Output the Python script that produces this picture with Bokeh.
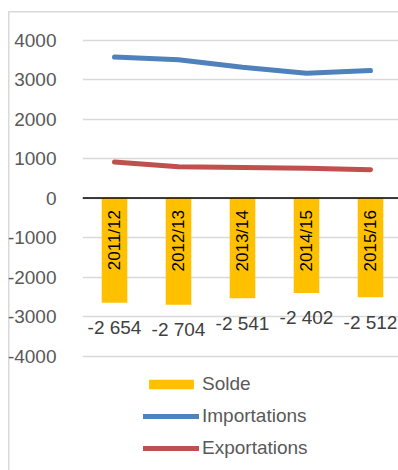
import math
from bokeh.plotting import figure
from bokeh.models import (Range1d, FixedTicker, Span, Legend, LegendItem,
                          ColumnDataSource)
from bokeh.embed import file_html
from bokeh.resources import INLINE
from bokeh.core.properties import value

# ---- data ----
categories = ["2011/12", "2012/13", "2013/14", "2014/15", "2015/16"]
solde = [-2654, -2704, -2541, -2402, -2512]
importations = [3570, 3500, 3310, 3160, 3225]
exportations = [910, 790, 770, 755, 715]
y_ticks = [-4000, -3000, -2000, -1000, 0, 1000, 2000, 3000, 4000]

# ---- layout constants ----
W, H = 398, 470
LEFT, TOP = 82, 12
PX_PER_CAT = 64.0
PX_PER_UNIT = 39.5 / 1000.0
ZERO_Y = 197.5
FONT = "Liberation Sans"
BORDER = "#D9D9D9"

x = list(range(len(categories)))
solde_labels = [f"{v:,}".replace(",", " ") for v in solde]

src = ColumnDataSource(dict(x=x, cat=categories, solde=solde, imp=importations,
                            exp=exportations, lab=solde_labels,
                            zero=[0] * len(x)))

x_range = Range1d(-0.5, -0.5 + (W - LEFT) / PX_PER_CAT)
y_range = Range1d(-(H - ZERO_Y) / PX_PER_UNIT, (ZERO_Y - TOP) / PX_PER_UNIT)

p = figure(width=W, height=H, x_range=x_range, y_range=y_range,
           output_backend="svg", toolbar_location=None, tools="",
           x_axis_location=None,
           min_border_left=LEFT, min_border_right=0,
           min_border_top=TOP, min_border_bottom=0)
# chart-area border (left and top edges visible) drawn as the page background
p.styles = {
    "background": (f"linear-gradient({BORDER}, {BORDER}) 8px 11px / 1.5px 100% no-repeat, "
                   f"linear-gradient({BORDER}, {BORDER}) 8px 11px / 100% 1.5px no-repeat, "
                   "white")
}
p.outline_line_color = None
p.background_fill_color = None
p.border_fill_color = None

p.xgrid.grid_line_color = None
p.ygrid.ticker = FixedTicker(ticks=y_ticks)
p.ygrid.grid_line_color = "#D9D9D9"
p.ygrid.grid_line_width = 1.5

ax = p.yaxis[0]
ax.ticker = FixedTicker(ticks=y_ticks)
ax.major_label_overrides = {t: str(t) for t in y_ticks}
ax.axis_line_color = None
ax.major_tick_line_color = None
ax.minor_tick_line_color = None
ax.major_label_standoff = 20
ax.major_label_text_font = FONT
ax.major_label_text_font_size = "19px"
ax.major_label_text_color = "#595959"

bars = p.vbar(x="x", top="solde", bottom=0, width=0.4, source=src,
              fill_color="#FFC000", line_color=None)
l_imp = p.line("x", "imp", source=src, line_width=5, line_color="#4F81BD",
               line_cap="round", line_join="round")
l_exp = p.line("x", "exp", source=src, line_width=5, line_color="#C0504D",
               line_cap="round", line_join="round")

p.add_layout(Span(location=0, dimension="width", line_color="#000000",
                  line_width=1.5))

p.text(x="x", y="zero", text="cat", source=src, angle=math.pi / 2,
       text_align="right", text_baseline="middle", y_offset=12,
       text_font=value(FONT), text_font_size="17px", text_color="#000000")

p.text(x="x", y="solde", text="lab", source=src, text_align="center",
       text_baseline="middle", y_offset=25,
       text_font=value(FONT), text_font_size="19px", text_color="#404040")

legend = Legend(items=[LegendItem(label="Solde", renderers=[bars]),
                       LegendItem(label="Importations", renderers=[l_imp]),
                       LegendItem(label="Exportations", renderers=[l_exp])],
                location=(61, 11), orientation="vertical",
                background_fill_alpha=0, border_line_color=None,
                padding=0, margin=0, glyph_width=56, glyph_height=12,
                label_standoff=3, spacing=10, label_height=22,
                label_text_font=FONT, label_text_font_size="19px",
                label_text_color="#595959")
p.add_layout(legend)

open("out.html", "w").write(file_html(p, INLINE))
